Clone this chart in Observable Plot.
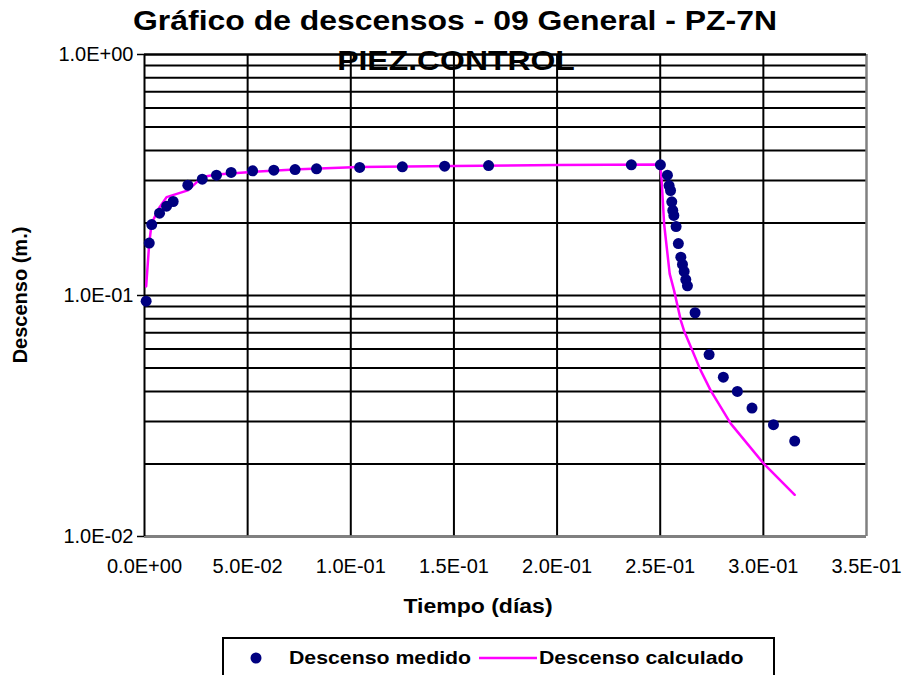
<!DOCTYPE html>
<html>
<head>
<meta charset="utf-8">
<script src="https://cdn.jsdelivr.net/npm/d3@7"></script>
<script src="https://cdn.jsdelivr.net/npm/@observablehq/plot@0.6"></script>
<style>
  html, body { margin: 0; padding: 0; background: #fff; }
  #wrap { position: relative; width: 904px; height: 675px; overflow: hidden; font-family: "Liberation Sans", Arial, sans-serif; color: #000; }
  .t { position: absolute; white-space: nowrap; font-weight: bold; }
  #chart { position: absolute; left: 0; top: 0; }
</style>
</head>
<body>
<div id="wrap">
  <div id="chart"></div>
  <div class="t" id="title" style="left:455px; top:21px; font-size:28px; transform:translate(-50%,-50%) scaleX(1.14);">Gráfico de descensos - 09 General - PZ-7N</div>
  <div class="t" id="sub" style="left:456px; top:61px; font-size:28px; transform:translate(-50%,-50%) scaleX(1.14);">PIEZ.CONTROL</div>
  <div class="t" id="ylab" style="left:20px; top:295px; font-size:20px; transform:translate(-50%,-50%) rotate(-90deg);">Descenso (m.)</div>
  <div class="t" id="xlab" style="left:478px; top:606px; font-size:20px; transform:translate(-50%,-50%) scaleX(1.15);">Tiempo (días)</div>
  <div id="legend" style="position:absolute; left:222px; top:637px; width:549px; height:50px; border:2px solid #000; background:#fff;">
    <svg width="549" height="40" style="position:absolute; left:0; top:0;">
      <circle cx="32" cy="19" r="5.5" fill="#000080"></circle>
      <line x1="255" y1="19" x2="313" y2="19" stroke="#FF00FF" stroke-width="2.5"></line>
    </svg>
    <div class="t" style="left:65px; top:19px; font-size:19px; transform-origin:left center; transform:translate(0,-50%) scaleX(1.12);">Descenso medido</div>
    <div class="t" style="left:315px; top:19px; font-size:19px; transform-origin:left center; transform:translate(0,-50%) scaleX(1.12);">Descenso calculado</div>
  </div>
</div>
<script>
// Measured drawdown (Descenso medido)
const medT = [0.0008, 0.0023, 0.0035, 0.0073, 0.0107, 0.0139, 0.021, 0.028, 0.0349, 0.042, 0.0524, 0.0627, 0.073, 0.0834, 0.1043, 0.125, 0.1455, 0.1668, 0.236, 0.2501, 0.2535, 0.2543, 0.255, 0.2556, 0.2561, 0.2566, 0.2577, 0.2588, 0.26, 0.2608, 0.2616, 0.2624, 0.2632, 0.2669, 0.2737, 0.2806, 0.2874, 0.2945, 0.3049, 0.3152];
const medV = [0.0947, 0.165, 0.197, 0.2195, 0.2347, 0.2455, 0.287, 0.304, 0.3156, 0.324, 0.329, 0.331, 0.333, 0.3355, 0.34, 0.342, 0.344, 0.346, 0.3485, 0.3485, 0.3156, 0.286, 0.2727, 0.2447, 0.2254, 0.2148, 0.1933, 0.1643, 0.1442, 0.1345, 0.1258, 0.1165, 0.1097, 0.0848, 0.0569, 0.0458, 0.04, 0.0341, 0.0291, 0.0249];
// Calculated drawdown (Descenso calculado)
const calT = [0.0008, 0.0023, 0.0035, 0.007, 0.0107, 0.021, 0.028, 0.035, 0.05, 0.075, 0.104, 0.15, 0.2, 0.25, 0.2507, 0.2519, 0.2546, 0.2567, 0.26, 0.2615, 0.2696, 0.2745, 0.2842, 0.3003, 0.3152];
const calV = [0.109, 0.165, 0.2, 0.23, 0.256, 0.273, 0.31, 0.318, 0.325, 0.334, 0.341, 0.345, 0.348, 0.35, 0.30, 0.198, 0.123, 0.105, 0.0787, 0.0716, 0.0489, 0.0403, 0.0294, 0.020, 0.0149];
// Axis ticks
const xTicks = [0, 0.05, 0.1, 0.15, 0.2, 0.25, 0.3, 0.35];
const yTicks = [0.01, 0.1, 1];
const yGrid = [0.01, 0.02, 0.03, 0.04, 0.05, 0.06, 0.07, 0.08, 0.09, 0.1, 0.2, 0.3, 0.4, 0.5, 0.6, 0.7, 0.8, 0.9, 1];

function sci(v) {
  if (v === 0) return "0.0E+00";
  const e = Math.floor(Math.log10(Math.abs(v)) + 1e-9);
  const m = v / Math.pow(10, e);
  return m.toFixed(1) + "E" + (e < 0 ? "-" : "+") + String(Math.abs(e)).padStart(2, "0");
}

const med = medT.map((t, i) => ({t, v: medV[i]}));
const cal = calT.map((t, i) => ({t, v: calV[i]}));

const chart = Plot.plot({
  width: 904,
  height: 600,
  marginLeft: 144,
  marginRight: 38,
  marginTop: 54,
  marginBottom: 64,
  style: {fontFamily: "'Liberation Sans', Arial, sans-serif", fontSize: "20px", color: "#000", background: "transparent"},
  x: {domain: [0, 0.35]},
  y: {type: "log", domain: [0.01, 1]},
  marks: [
    Plot.ruleY(yGrid, {stroke: "#000", strokeWidth: 2}),
    Plot.ruleX(xTicks.slice(1, -1), {stroke: "#000", strokeWidth: 2}),
    Plot.ruleX([0.35], {stroke: "#808080", strokeWidth: 2.5}),
    Plot.ruleY([0.01], {stroke: "#808080", strokeWidth: 2.5}),
    Plot.ruleX([0], {stroke: "#000", strokeWidth: 2}),
    Plot.ruleY([1], {stroke: "#000", strokeWidth: 2}),
    Plot.axisY(yTicks, {tickSize: 7, tickPadding: 4, tickFormat: sci, fontSize: 20, label: null, stroke: "#000", strokeWidth: 1.5}),
    Plot.axisX(xTicks, {tickSize: 0, tickPadding: 22, tickFormat: sci, fontSize: 20, label: null}),
    Plot.line(cal, {x: "t", y: "v", stroke: "#FF00FF", strokeWidth: 2.5}),
    Plot.dot(med, {x: "t", y: "v", r: 5.5, fill: "#000080"})
  ]
});
document.getElementById("chart").appendChild(chart);
</script>
</body>
</html>
